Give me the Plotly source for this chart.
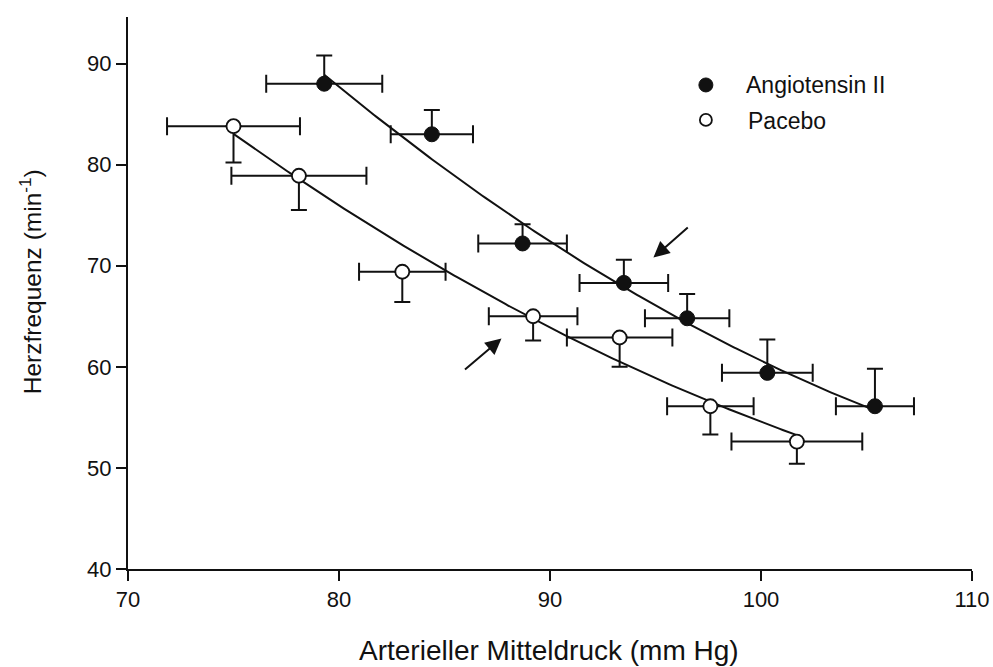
import numpy as np
import plotly.graph_objects as go

# Angiotensin II (filled)
ang_x = [79.3, 84.4, 88.7, 93.5, 96.5, 100.3, 105.4]
ang_y = [88.0, 83.0, 72.2, 68.3, 64.8, 59.4, 56.1]
ang_xerr = [2.75, 1.95, 2.1, 2.1, 2.0, 2.15, 1.85]
ang_yerr_up = [2.8, 2.4, 1.9, 2.3, 2.4, 3.3, 3.7]

# Placebo (open)
pla_x = [75.0, 78.1, 83.0, 89.2, 93.3, 97.6, 101.7]
pla_y = [83.8, 78.9, 69.4, 65.0, 62.9, 56.1, 52.6]
pla_xerr = [3.15, 3.2, 2.05, 2.1, 2.5, 2.05, 3.1]
pla_yerr_down = [3.6, 3.4, 3.0, 2.4, 2.9, 2.8, 2.2]

legend_labels = ["Angiotensin II", "Pacebo"]
x_title = "Arterieller Mitteldruck (mm Hg)"
y_title = "Herzfrequenz (min<sup>-1</sup>)"
x_ticks = [70, 80, 90, 100, 110]
y_ticks = [40, 50, 60, 70, 80, 90]

FONT = "Liberation Sans, Arial, sans-serif"
INK = "#111111"

W, H = 993, 667
ML, MR, MT, MB = 127.7, 20.7, 17, 97.7
PW, PH = W - ML - MR, H - MT - MB


def px2paper_x(px):
    return (px - ML) / PW


def px2paper_y(py):
    return (H - MB - py) / PH


fig = go.Figure()

# regression curves (quadratic fit of the data)
for xs, ys in [(ang_x, ang_y), (pla_x, pla_y)]:
    c = np.polyfit(xs, ys, 2)
    xf = np.linspace(min(xs), max(xs), 200)
    fig.add_trace(go.Scatter(x=xf, y=np.polyval(c, xf), mode="lines",
                             line=dict(color=INK, width=2), showlegend=False,
                             hoverinfo="skip"))

fig.add_trace(go.Scatter(
    x=ang_x, y=ang_y, mode="markers", showlegend=False,
    marker=dict(size=15, color=INK, line=dict(color=INK, width=1)),
    error_x=dict(type="data", array=ang_xerr, color=INK, thickness=2, width=9),
    error_y=dict(type="data", symmetric=False, array=ang_yerr_up,
                 arrayminus=[0]*len(ang_y), color=INK, thickness=2, width=8),
))
fig.add_trace(go.Scatter(
    x=pla_x, y=pla_y, mode="markers", showlegend=False,
    marker=dict(size=14, color="white", line=dict(color=INK, width=1.8)),
    error_x=dict(type="data", array=pla_xerr, color=INK, thickness=2, width=9),
    error_y=dict(type="data", symmetric=False, array=[0]*len(pla_y),
                 arrayminus=pla_yerr_down, color=INK, thickness=2, width=8),
))

# legend markers on an overlay axis (paper-like 0..1)
fig.add_trace(go.Scatter(x=[px2paper_x(706)], y=[px2paper_y(85)], xaxis="x2", yaxis="y2",
                         mode="markers",
                         marker=dict(size=14, color=INK, line=dict(color=INK, width=1)),
                         showlegend=False, hoverinfo="skip"))
fig.add_trace(go.Scatter(x=[px2paper_x(706)], y=[px2paper_y(120)], xaxis="x2", yaxis="y2",
                         mode="markers",
                         marker=dict(size=12, color="white", line=dict(color=INK, width=1.8)),
                         showlegend=False, hoverinfo="skip"))

annotations = [
    dict(x=px2paper_x(744), y=px2paper_y(85), xref="paper", yref="paper",
         text=legend_labels[0], showarrow=False, xanchor="left", yanchor="middle",
         font=dict(family=FONT, size=23, color=INK)),
    dict(x=px2paper_x(746), y=px2paper_y(121), xref="paper", yref="paper",
         text=legend_labels[1], showarrow=False, xanchor="left", yanchor="middle",
         font=dict(family=FONT, size=23, color=INK)),
    # axis titles
    dict(x=px2paper_x(549), y=px2paper_y(651), xref="paper", yref="paper",
         text=x_title, showarrow=False, xanchor="center", yanchor="middle",
         font=dict(family=FONT, size=28, color=INK)),
    dict(x=px2paper_x(30), y=px2paper_y(282), xref="paper", yref="paper",
         text=y_title, showarrow=False, xanchor="center", yanchor="middle",
         textangle=-90, font=dict(family=FONT, size=24.5, color=INK)),
    # arrows
    dict(x=94.9, y=70.8, ax=96.6, ay=73.9, xref="x", yref="y", axref="x", ayref="y",
         text="", showarrow=True, arrowhead=2, arrowsize=1.6, arrowwidth=2,
         arrowcolor=INK, standoff=0),
    dict(x=87.7, y=62.8, ax=85.9, ay=59.6, xref="x", yref="y", axref="x", ayref="y",
         text="", showarrow=True, arrowhead=2, arrowsize=1.6, arrowwidth=2,
         arrowcolor=INK, standoff=0),
]

fig.update_layout(
    width=W, height=H,
    margin=dict(l=ML, r=MR, t=MT, b=MB, autoexpand=False),
    paper_bgcolor="white", plot_bgcolor="white",
    font=dict(family=FONT, color=INK),
    annotations=annotations,
    xaxis=dict(range=[70, 110], tickvals=x_ticks, automargin=False,
               showline=True, linecolor=INK, linewidth=2, mirror=False,
               ticks="outside", ticklen=10, tickwidth=2, tickcolor=INK,
               showgrid=False, zeroline=False,
               tickfont=dict(size=22, family=FONT, color=INK)),
    yaxis=dict(range=[40, 94.6], tickvals=y_ticks, automargin=False,
               showline=True, linecolor=INK, linewidth=2, mirror=False,
               ticks="outside", ticklen=10, tickwidth=2, tickcolor=INK,
               showgrid=False, zeroline=False,
               tickfont=dict(size=22, family=FONT, color=INK)),
    xaxis2=dict(overlaying="x", range=[0, 1], visible=False),
    yaxis2=dict(overlaying="y", range=[0, 1], visible=False),
)

fig.write_html("out.html")
